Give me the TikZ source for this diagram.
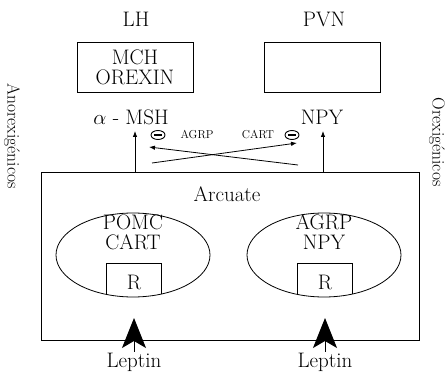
\documentclass[tikz,border=0pt]{standalone}
\usepackage{amsmath}
\usepackage{fontspec}
\usetikzlibrary{arrows.meta,shapes.geometric}

\tikzset{
  txt/.style={font=\fontsize{21}{20}\selectfont,align=center,inner sep=1pt},
  side/.style={font=\fontsize{17.5}{20}\selectfont,inner sep=1pt,rotate=-90},
  small/.style={font=\fontsize{11.5}{12}\selectfont,inner sep=1pt},
  boxnode/.style={draw,line width=0.8pt,minimum width=116pt,minimum height=50pt,txt},
  cell/.style={draw,ellipse,line width=0.8pt,minimum width=154pt,minimum height=84pt,inner sep=0pt},
  inhib/.style={draw,ellipse,line width=0.9pt,minimum width=14pt,minimum height=9pt,inner sep=0pt,
    path picture={\draw[line width=1.1pt] ([xshift=3pt]path picture bounding box.west) -- ([xshift=-3pt]path picture bounding box.east);}},
  arr/.style={-{Latex[length=6pt,width=4.5pt]},line width=0.8pt},
  lep/.style={-{Stealth[length=30pt,width=24pt,inset=7pt]},line width=1pt}
}

\begin{document}
\begin{tikzpicture}[x=1pt,y=-1pt]
        \useasboundingbox (0,0) rectangle (447,377);
        % top boxes
        \node[txt] (LH) at (136,19) {LH};
        \node[txt] (PVN) at (324,19) {PVN};
        \node[boxnode] (lhbox) at (135,67) {MCH\\OREXIN};
        \node[boxnode] (pvnbox) at (322,67) {};

        % outputs of the arcuate
        \node[txt] (msh) at (131,117) {$\alpha$ - MSH};
        \node[txt] (npy) at (322,117) {NPY};
        \node[inhib] (m1) at (158,135) {};
        \node[inhib] (m2) at (292,135) {};
        \node[small] (agrp) at (197,135) {AGRP};
        \node[small] (cart) at (258,135) {CART};

        % arcuate
        \node[draw,line width=0.8pt,minimum width=378pt,minimum height=168pt] (arc) at (230,256) {};
        \node[txt] (arclbl) at (227,194) {Arcuate};
        \node[cell] (pomc) at (133,255) {};
        \node[cell] (agrpnpy) at (324,255) {};
        \node[txt] (pomctxt) at (133,232) {POMC\\CART};
        \node[txt] (agrptxt) at (324,232) {AGRP\\NPY};
        \begin{scope}
          \clip (133,255) ellipse [x radius=77,y radius=42];
          \draw[line width=0.8pt] (106,263) rectangle (161,310);
        \end{scope}
        \begin{scope}
          \clip (324,255) ellipse [x radius=77,y radius=42];
          \draw[line width=0.8pt] (297,263) rectangle (352,310);
        \end{scope}
        \node[txt] (r1) at (134,282) {R};
        \node[txt] (r2) at (325,282) {R};

        % vertical and crossing arrows
        \coordinate (u1) at (135,172);
        \coordinate (t1) at (135,131);
        \coordinate (u2) at (323,172);
        \coordinate (t2) at (323,131);
        \draw[arr] (u1) -- (t1);
        \draw[arr] (u2) -- (t2);
        \coordinate (a1) at (152,163);
        \coordinate (a2) at (297,143);
        \coordinate (b1) at (298,165);
        \coordinate (b2) at (149,147);
        \draw[arr] (a1) -- (a2);
        \draw[arr] (b1) -- (b2);

        % side labels
        \node[side] (anor) at (12,136) {Anorexigénicos};
        \node[side] (orex) at (437,142) {Orexigénicos};

        % leptin
        \node[txt] (lep1) at (134,362) {Leptin};
        \node[txt] (lep2) at (325,362) {Leptin};
        \coordinate (p1) at (134,318);
        \coordinate (p2) at (325,318);
        \draw[lep] (lep1.north) -- (p1);
        \draw[lep] (lep2.north) -- (p2);
\end{tikzpicture}
\end{document}
